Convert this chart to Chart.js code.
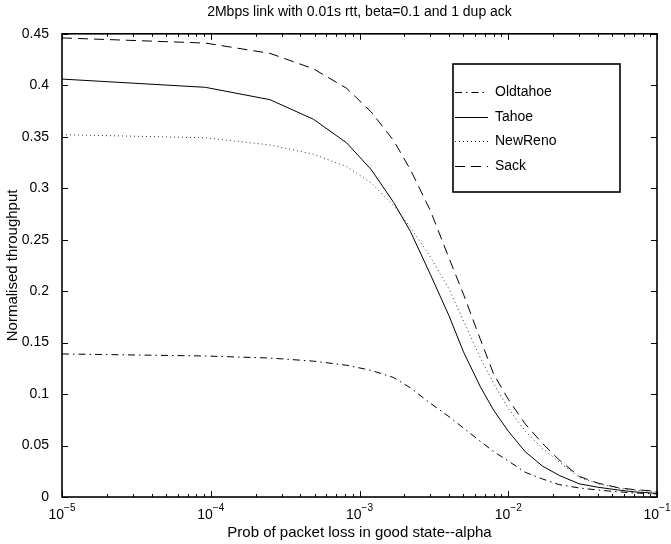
<!DOCTYPE html>
<html><head><meta charset="utf-8">
<script src="https://cdn.jsdelivr.net/npm/chart.js@4/dist/chart.umd.min.js"></script>
<style>html,body{margin:0;padding:0;background:#fff;}#wrap{width:671px;height:544px;}</style>
</head><body><div id="wrap"><canvas id="c" width="671" height="544"></canvas></div>
<script>
// ---- data ----
const alpha    = [1e-5, 9.2e-5, 2.5e-4, 4.9e-4, 8.2e-4, 1.2e-3, 1.7e-3, 2.2e-3, 3e-3, 4e-3, 5e-3, 6.5e-3, 8e-3, 1e-2, 1.3e-2, 1.7e-2, 2.2e-2, 3e-2, 4e-2, 5.5e-2, 7e-2, 1e-1];
const oldtahoe = [0.139,0.137,0.135,0.132,0.128,0.123,0.116,0.106,0.091,0.078,0.067,0.054,0.044,0.035,0.024,0.0175,0.012,0.0088,0.0068,0.005,0.004,0.003];
const tahoe    = [0.406,0.398,0.386,0.367,0.344,0.318,0.286,0.258,0.216,0.176,0.141,0.107,0.084,0.064,0.044,0.030,0.021,0.0128,0.0095,0.0068,0.005,0.0035];
const newreno  = [0.352,0.349,0.342,0.333,0.321,0.305,0.283,0.262,0.233,0.202,0.171,0.135,0.110,0.086,0.064,0.047,0.034,0.019,0.013,0.0085,0.0068,0.005];
const sack     = [0.446,0.441,0.431,0.416,0.397,0.374,0.346,0.318,0.278,0.232,0.197,0.153,0.119,0.095,0.071,0.052,0.036,0.020,0.0135,0.009,0.0072,0.0055];
const seriesNames = ['Oldtahoe','Tahoe','NewReno','Sack'];
const xTickValues = [1e-5,1e-4,1e-3,1e-2,1e-1];
const xTickBase = '10';
const xTickExponents = ['\u22125','\u22124','\u22123','\u22122','\u22121'];
const xMinorMultipliers = [2,3,4,5,6,7,8,9];
const yTickValues = [0,0.05,0.1,0.15,0.2,0.25,0.3,0.35,0.4,0.45];
const yTickLabels = ['0','0.05','0.1','0.15','0.2','0.25','0.3','0.35','0.4','0.45'];
const titleText = '2Mbps link with 0.01s rtt, beta=0.1 and 1 dup ack';
const xTitle = 'Prob of packet loss in good state--alpha';
const yTitle = 'Normalised throughput';

const FONT = '"Liberation Sans", Arial, Helvetica, sans-serif';
const pts = arr => alpha.map((a,i)=>({x:a,y:arr[i]}));
const styles = [
  {borderDash:[7,4,1.5,4], borderColor:'#000'},
  {borderDash:[], borderColor:'#000'},
  {borderDash:[1,3], borderColor:'#333'},
  {borderDash:[10,6], borderColor:'#000'}
];
const datasets = [oldtahoe,tahoe,newreno,sack].map((arr,i)=>({
  label: seriesNames[i], data: pts(arr), borderWidth:1, pointRadius:0, tension:0, fill:false,
  borderColor: styles[i].borderColor, borderDash: styles[i].borderDash
}));

const frame = {
  id:'frame',
  afterDraw(chart){
    const {ctx, chartArea:a, scales:{x,y}} = chart;
    ctx.save();
    ctx.strokeStyle='#000'; ctx.lineWidth=1;
    ctx.beginPath();
    for (const v of yTickValues){
      const py = Math.round(y.getPixelForValue(v))+0.5;
      ctx.moveTo(a.left,py); ctx.lineTo(a.left+6,py);
      ctx.moveTo(a.right,py); ctx.lineTo(a.right-6,py);
    }
    for (let i=0;i<xTickValues.length;i++){
      const px = Math.round(x.getPixelForValue(xTickValues[i]))+0.5;
      ctx.moveTo(px,a.bottom); ctx.lineTo(px,a.bottom-6);
      ctx.moveTo(px,a.top); ctx.lineTo(px,a.top+6);
      if (i<xTickValues.length-1){
        for (const m of xMinorMultipliers){
          const qx = Math.round(x.getPixelForValue(m*xTickValues[i]))+0.5;
          ctx.moveTo(qx,a.bottom); ctx.lineTo(qx,a.bottom-3);
          ctx.moveTo(qx,a.top); ctx.lineTo(qx,a.top+3);
        }
      }
    }
    ctx.stroke();
    ctx.lineWidth=1.6;
    ctx.strokeRect(a.left,a.top,a.right-a.left,a.bottom-a.top);
    // x tick labels with superscript exponents
    ctx.fillStyle='#000'; ctx.textBaseline='alphabetic'; ctx.textAlign='left';
    for (let i=0;i<xTickValues.length;i++){
      const px = x.getPixelForValue(xTickValues[i]);
      ctx.font='14px '+FONT; const w1=ctx.measureText(xTickBase).width;
      ctx.font='10px '+FONT; const w2=ctx.measureText(xTickExponents[i]).width;
      const x0 = px-(w1+w2)/2;
      ctx.font='14px '+FONT; ctx.fillText(xTickBase,x0,a.bottom+22);
      ctx.font='10px '+FONT; ctx.fillText(xTickExponents[i],x0+w1,a.bottom+14);
    }
    // legend
    const lx=453, ly=64, lw=167, lh=128;
    ctx.fillStyle='#fff'; ctx.fillRect(lx,ly,lw,lh);
    ctx.lineWidth=1.6; ctx.strokeStyle='#000'; ctx.strokeRect(lx,ly,lw,lh);
    ctx.font='14px '+FONT; ctx.textBaseline='middle';
    chart.data.datasets.forEach((ds,i)=>{
      const yy = Math.round(ly+28+i*24.5)+0.5;
      ctx.beginPath(); ctx.lineWidth=1; ctx.strokeStyle=ds.borderColor; ctx.setLineDash(ds.borderDash);
      ctx.moveTo(lx+2,yy); ctx.lineTo(lx+35,yy); ctx.stroke();
      ctx.setLineDash([]);
      ctx.fillStyle='#000'; ctx.fillText(ds.label,lx+42,yy);
    });
    ctx.restore();
  }
};

new Chart(document.getElementById('c'),{
  type:'line',
  data:{datasets},
  options:{
    responsive:false, animation:false, devicePixelRatio:1,
    layout:{padding:{left:0,right:14,top:0,bottom:0}},
    plugins:{
      legend:{display:false}, tooltip:{enabled:false},
      title:{display:true,fullSize:false,text:titleText,color:'#000',font:{family:FONT,size:14,weight:'normal'},padding:{top:4,bottom:13}}
    },
    scales:{
      x:{type:'logarithmic',min:1e-5,max:1e-1,
        grid:{display:false},border:{display:false},
        ticks:{display:false},
        afterBuildTicks:s=>{s.ticks=xTickValues.map(v=>({value:v}));},
        afterFit:s=>{s.height=47;},
        title:{display:true,text:xTitle,color:'#000',font:{family:FONT,size:15},padding:{top:0,bottom:2}}
      },
      y:{type:'linear',min:0,max:0.45,
        grid:{display:false},border:{display:false},
        afterBuildTicks:s=>{s.ticks=yTickValues.map(v=>({value:v}));},
        ticks:{color:'#000',font:{family:FONT,size:14},padding:5,callback:(v,i)=>yTickLabels[i]},
        afterFit:s=>{s.width=62;},
        title:{display:true,text:yTitle,color:'#000',font:{family:FONT,size:15},padding:{top:4,bottom:0}}
      }
    }
  },
  plugins:[frame]
});
</script></body></html>
